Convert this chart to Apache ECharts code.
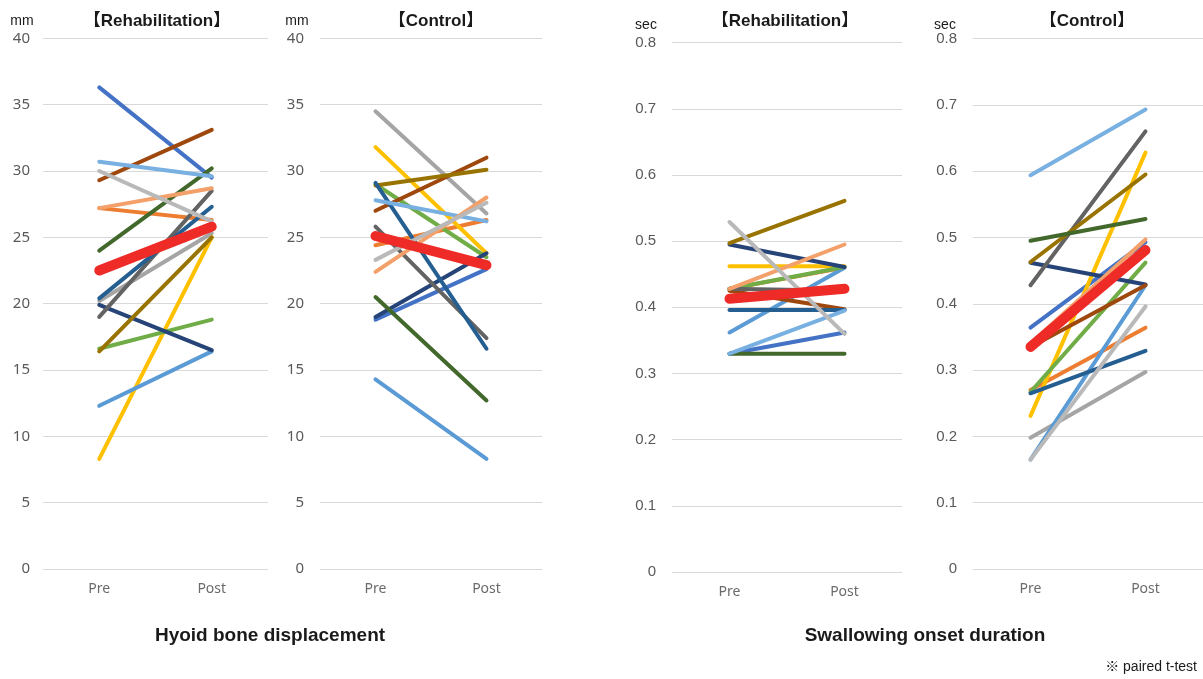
<!DOCTYPE html>
<html>
<head>
<meta charset="utf-8">
<title>Hyoid bone displacement and swallowing onset duration</title>
<script src="https://cdn.jsdelivr.net/npm/echarts@6/dist/echarts.min.js"></script>
<style>
  html, body { margin: 0; padding: 0; background: #ffffff; }
  #chart { width: 1203px; height: 679px; }
</style>
</head>
<body>
<div id="chart"></div>
<script>
// Measurement phases on every x axis
const phases = ['Pre', 'Post'];

// Hyoid bone displacement (mm), rehabilitation group: one entry per subject
const hyoidRehabPre  = [36.3, 27.2, 20.2, 8.3, 12.3, 16.6, 19.9, 29.3, 19.0, 16.4, 20.4, 24.0, 30.7, 27.2, 30.0];
const hyoidRehabPost = [29.5, 26.3, 25.3, 25.0, 16.4, 18.8, 16.5, 33.1, 28.5, 25.0, 27.3, 30.2, 29.6, 28.7, 26.2];
const hyoidRehabTone = [0, 1, 2, 3, 4, 5, 6, 7, 8, 9, 10, 11, 12, 13, 14];
const hyoidRehabMean = [22.5, 25.8];

// Hyoid bone displacement (mm), control group
const hyoidCtrlPre  = [18.8, 24.4, 34.5, 31.8, 14.3, 29.0, 19.0, 27.0, 25.8, 28.9, 29.1, 20.5, 27.8, 22.4, 23.3];
const hyoidCtrlPost = [22.6, 26.3, 26.8, 23.8, 8.3, 23.5, 23.8, 31.0, 17.4, 30.1, 16.6, 12.7, 26.2, 28.0, 27.6];
const hyoidCtrlTone = [0, 1, 2, 3, 4, 5, 6, 7, 8, 9, 10, 11, 12, 13, 14];
const hyoidCtrlMean = [25.1, 22.9];

// Swallowing onset duration (sec), rehabilitation group
const swallowRehabPre  = [0.330, 0.428, 0.462, 0.362, 0.428, 0.495, 0.425, 0.428, 0.497, 0.396, 0.330, 0.330, 0.428, 0.529];
const swallowRehabPost = [0.362, 0.460, 0.462, 0.460, 0.461, 0.461, 0.397, 0.425, 0.561, 0.396, 0.330, 0.395, 0.495, 0.360];
const swallowRehabTone = [0, 1, 3, 4, 5, 6, 7, 8, 9, 10, 11, 12, 13, 14];
const swallowRehabMean = [0.413, 0.428];

// Swallowing onset duration (sec), control group
const swallowCtrlPre  = [0.364, 0.270, 0.198, 0.231, 0.165, 0.267, 0.462, 0.335, 0.428, 0.463, 0.265, 0.495, 0.594, 0.340, 0.165];
const swallowCtrlPost = [0.493, 0.364, 0.297, 0.628, 0.428, 0.462, 0.429, 0.428, 0.660, 0.595, 0.329, 0.528, 0.693, 0.497, 0.396];
const swallowCtrlTone = [0, 1, 2, 3, 4, 5, 6, 7, 8, 9, 10, 11, 12, 13, 14];
const swallowCtrlMean = [0.335, 0.481];

// Tick values
const hyoidTicks = { min: 0, max: 40, step: 5 };
const swallowTicks = { min: 0, max: 0.8, step: 0.1 };

// Per-subject line colours
const palette = [
  '#4472C4', '#ED7D31', '#A5A5A5', '#FFC000', '#5B9BD5',
  '#70AD47', '#264478', '#9E480E', '#636363', '#997300',
  '#255E91', '#43682B', '#78B0E2', '#F4A06A', '#B9B9B9'
];
const meanColor = '#EE2B27';

const panels = [
  { pre: hyoidRehabPre, post: hyoidRehabPost, tone: hyoidRehabTone, mean: hyoidRehabMean, ticks: hyoidTicks,
    grid: { left: 43, top: 38.3, width: 225, height: 530.7 }, labelFont: 'Noto Sans', dec: 0 },
  { pre: hyoidCtrlPre, post: hyoidCtrlPost, tone: hyoidCtrlTone, mean: hyoidCtrlMean, ticks: hyoidTicks,
    grid: { left: 320, top: 38.3, width: 222, height: 530.7 }, labelFont: 'Noto Sans', dec: 0 },
  { pre: swallowRehabPre, post: swallowRehabPost, tone: swallowRehabTone, mean: swallowRehabMean, ticks: swallowTicks,
    grid: { left: 672, top: 42.7, width: 230, height: 529.3 }, labelFont: 'Liberation Sans', dec: 1 },
  { pre: swallowCtrlPre, post: swallowCtrlPost, tone: swallowCtrlTone, mean: swallowCtrlMean, ticks: swallowTicks,
    grid: { left: 973, top: 38.6, width: 234, height: 530.4 }, labelFont: 'Liberation Sans', dec: 1 }
];

const grids = [], xAxes = [], yAxes = [], series = [];
panels.forEach((p, i) => {
  grids.push(Object.assign({ containLabel: false }, p.grid));
  xAxes.push({
    type: 'category', gridIndex: i, data: phases, boundaryGap: true,
    axisLine: { show: false }, axisTick: { show: false },
    axisLabel: { color: '#6b6b6b', fontSize: 14, fontFamily: 'Noto Sans', margin: 13 }
  });
  yAxes.push({
    type: 'value', gridIndex: i, min: p.ticks.min, max: p.ticks.max, interval: p.ticks.step,
    axisLine: { show: false }, axisTick: { show: false },
    splitLine: { lineStyle: { color: '#D9D9D9', width: 1 } },
    axisLabel: {
      color: '#595959', fontSize: 15, fontFamily: p.labelFont, margin: i === 0 ? 13 : 16,
      formatter: v => (v === 0 ? '0' : v.toFixed(p.dec))
    }
  });
  p.pre.forEach((v, k) => {
    series.push({
      type: 'line', xAxisIndex: i, yAxisIndex: i,
      data: [v, p.post[k]], symbol: 'none', silent: true,
      lineStyle: { width: 4, color: palette[p.tone[k]], cap: 'round' },
      z: 2
    });
  });
  series.push({
    type: 'line', xAxisIndex: i, yAxisIndex: i,
    data: p.mean, symbol: 'none', silent: true,
    lineStyle: { width: 10, color: meanColor, cap: 'round' },
    z: 3
  });
});

const titleFont = 'bold 17px "Liberation Sans", "Noto Sans CJK JP", sans-serif';
const unitFont = '14px "Liberation Sans", sans-serif';
const captionFont = 'bold 19px "Liberation Sans", sans-serif';
const texts = [
  { text: 'mm', x: 22, y: 21, font: unitFont },
  { text: 'mm', x: 297, y: 21, font: unitFont },
  { text: 'sec', x: 646, y: 25, font: unitFont },
  { text: 'sec', x: 945, y: 25, font: unitFont },
  { text: '【Rehabilitation】', x: 157, y: 21, font: titleFont },
  { text: '【Control】', x: 436, y: 21, font: titleFont },
  { text: '【Rehabilitation】', x: 785, y: 21, font: titleFont },
  { text: '【Control】', x: 1087, y: 21, font: titleFont },
  { text: 'Hyoid bone displacement', x: 270, y: 636, font: captionFont },
  { text: 'Swallowing onset duration', x: 925, y: 636, font: captionFont },
  { text: '※ paired t-test', x: 1197, y: 667, font: '14px "Liberation Sans", "Noto Sans CJK JP", sans-serif', align: 'right' }
];

const chart = echarts.init(document.getElementById('chart'), null, { renderer: 'canvas' });
chart.setOption({
  animation: false,
  backgroundColor: '#ffffff',
  grid: grids,
  xAxis: xAxes,
  yAxis: yAxes,
  series: series,
  graphic: texts.map(t => ({
    type: 'text', x: t.x, y: t.y, silent: true,
    style: { text: t.text, font: t.font, fill: '#1a1a1a', align: t.align || 'center', verticalAlign: 'middle' }
  }))
});
</script>
</body>
</html>
